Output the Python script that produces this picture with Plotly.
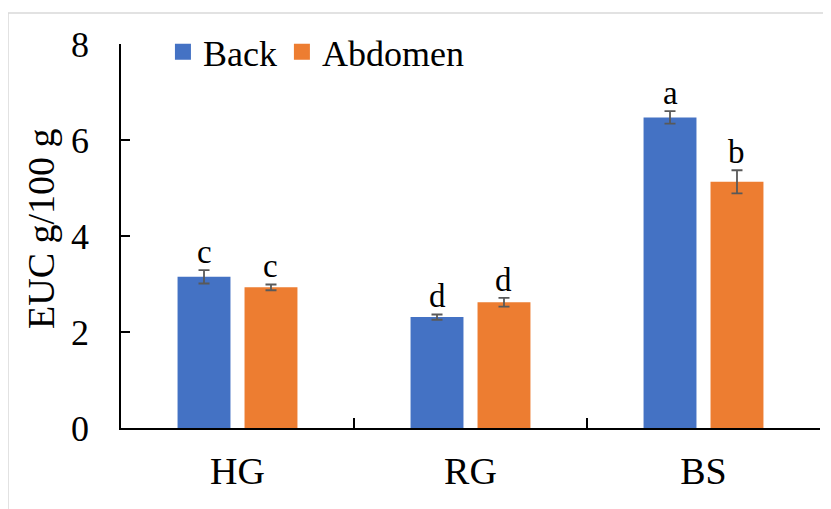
import plotly.graph_objects as go

categories = ["HG", "RG", "BS"]
back_values = [3.15, 2.31, 6.47]
back_errors = [0.14, 0.055, 0.13]
abdomen_values = [2.93, 2.62, 5.13]
abdomen_errors = [0.06, 0.09, 0.24]
back_letters = ["c", "d", "a"]
abdomen_letters = ["c", "d", "b"]
series_names = ["Back", "Abdomen"]
y_ticks = [0, 2, 4, 6, 8]
y_title = "EUC g/100 g"

BLUE = "#4472C4"
ORANGE = "#ED7D31"
FONT = "Liberation Serif, Times New Roman, serif"

# page body has an 8px margin; figure coordinates = screen - 8
OFF = 8
W, H = 831 - OFF, 509 - OFF
ML, MT = 121 - OFF, 44 - OFF
MR = W - (820 - OFF)
MB = H - (428 - OFF)
BARGAP = 0.425
BARGROUPGAP = 0.21

plot_w = W - ML - MR
plot_h = H - MT - MB

fig = go.Figure()
err_style = dict(type="data", visible=True, color="#595959", thickness=1.8, width=5.5)
fig.add_trace(go.Bar(x=categories, y=back_values, name=series_names[0],
                     marker=dict(color=BLUE, line=dict(width=0)),
                     error_y=dict(array=back_errors, **err_style), showlegend=False))
fig.add_trace(go.Bar(x=categories, y=abdomen_values, name=series_names[1],
                     marker=dict(color=ORANGE, line=dict(width=0)),
                     error_y=dict(array=abdomen_errors, **err_style), showlegend=False))
for nm, col in zip(series_names, [BLUE, ORANGE]):
    fig.add_trace(go.Scatter(x=[None], y=[None], mode="markers", name=nm,
                             marker=dict(symbol="square", size=16, color=col)))

cat_px = plot_w / len(categories)
off = (1 - BARGAP) * cat_px / 4

for vals, errs, letters, sign in [(back_values, back_errors, back_letters, -1),
                                  (abdomen_values, abdomen_errors, abdomen_letters, 1)]:
    for c, v, e, t in zip(categories, vals, errs, letters):
        fig.add_annotation(x=c, y=v + e, text=t, showarrow=False, xref="x", yref="y",
                           xanchor="center", yanchor="bottom", xshift=sign * off, yshift=-2,
                           font=dict(family=FONT, size=33, color="black"))

# y axis title as rotated text
fig.add_annotation(text=y_title, xref="paper", yref="paper",
                   x=(41 - 121) / plot_w, y=(428 - 229) / plot_h,
                   xanchor="center", yanchor="middle", textangle=-90, showarrow=False,
                   font=dict(family=FONT, size=38, color="black"))

# outer light gray frame
fig.add_shape(type="rect", xref="paper", yref="paper",
              x0=(8 - 121) / plot_w, x1=(851 - 121) / plot_w,
              y0=(428 - 530) / plot_h, y1=(428 - 13) / plot_h,
              line=dict(color="#D9D9D9", width=1.5), fillcolor="rgba(0,0,0,0)", layer="below")

fig.update_layout(
    width=W, height=H,
    margin=dict(l=ML, r=MR, t=MT, b=MB, autoexpand=False),
    paper_bgcolor="white", plot_bgcolor="white",
    barmode="group", bargap=BARGAP, bargroupgap=BARGROUPGAP,
    font=dict(family=FONT, color="black"),
    showlegend=True,
    legend=dict(orientation="h", x=0.060, y=1.058, xanchor="left", yanchor="top",
                bgcolor="rgba(0,0,0,0)", font=dict(family=FONT, size=36, color="black"),
                itemclick=False, tracegroupgap=0),
    xaxis=dict(type="category", showline=True, linecolor="black", linewidth=1.5,
               ticks="inside", tickson="boundaries", ticklen=10, tickcolor="black", tickwidth=1.5,
               tickfont=dict(family=FONT, size=38, color="black"), showgrid=False,
               ticklabelstandoff=9, fixedrange=True),
    yaxis=dict(range=[0, 8], tickvals=y_ticks, ticktext=[str(v) for v in y_ticks],
               showline=True, linecolor="black", linewidth=1.5,
               ticks="inside", ticklen=9, tickcolor="black", tickwidth=1.5,
               tickfont=dict(family=FONT, size=36, color="black"), showgrid=False,
               zeroline=False, ticklabelstandoff=23, fixedrange=True),
)

fig.write_html("out.html")
